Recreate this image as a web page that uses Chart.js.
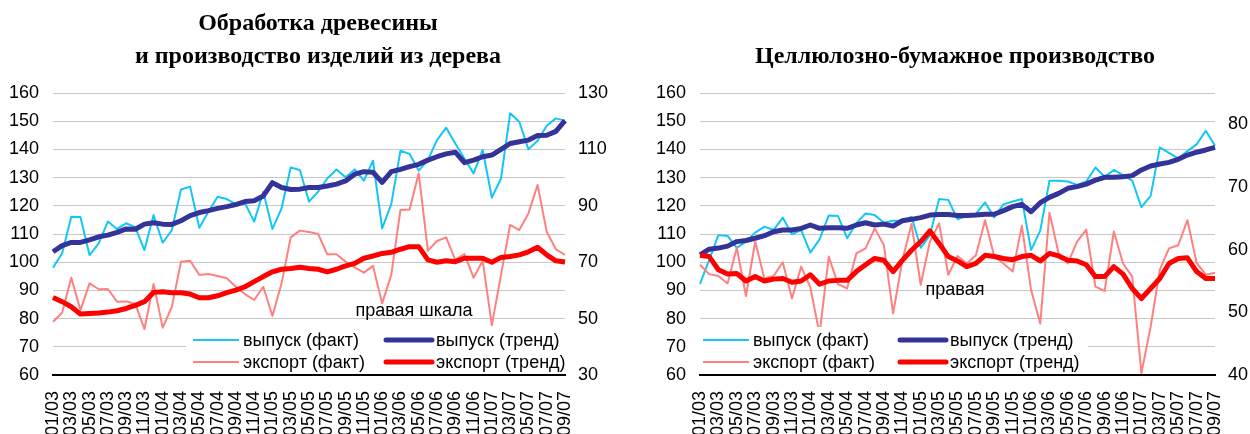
<!DOCTYPE html>
<html>
<head>
<meta charset="utf-8">
<script src="https://cdn.jsdelivr.net/npm/chart.js@4.4.0/dist/chart.umd.min.js"></script>
<style>
  body { margin: 0; background: #fff; width: 1250px; height: 434px; overflow: hidden; position: relative; }
  .panel { position: absolute; top: 0; width: 625px; height: 434px; }
  .title { position: absolute; width: 600px; font-family: "Liberation Serif", "Times New Roman", serif; font-weight: bold; font-size: 24px; line-height: 33px; text-align: center; white-space: nowrap; color: #000; }
</style>
</head>
<body>
<div class="panel" style="left:0"><canvas id="wood" width="625" height="434"></canvas></div>
<div class="panel" style="left:625px"><canvas id="paper" width="625" height="434"></canvas></div>
<div class="title" style="left:18px; top:6px">Обработка древесины<br>и производство изделий из дерева</div>
<div class="title" style="left:655px; top:39px">Целлюлозно-бумажное производство</div>
<script>
// monthly labels 01/03 ... 09/07
const months = [];
for (let y = 3; y <= 7; y++) {
  for (let m = 1; m <= 12; m++) {
    if (y === 7 && m > 9) break;
    months.push(String(m).padStart(2, "0") + "/0" + y);
  }
}

const seriesNames = ["выпуск (факт)", "выпуск (тренд)", "экспорт (факт)", "экспорт (тренд)"];

// wood processing: output (left scale), export (right scale)
const woodOutFact = [98, 103.2, 116.1, 116, 102.5, 106.7, 114.4, 111.8, 113.8, 112.4, 104.3, 116.7, 106.9, 111.4, 125.8, 126.8, 112.2, 117.9, 123.2, 122.4, 120.6, 120.9, 114.4, 125, 111.8, 119.1, 133.6, 132.7, 121.5, 125, 129.7, 132.9, 130.1, 132.9, 128.9, 136, 112, 120.6, 139.5, 138.4, 132.5, 136.2, 143.3, 147.7, 142.1, 136.8, 131.5, 139.8, 122.9, 129.7, 152.8, 149.8, 140, 143.1, 148.4, 151, 150.2];
const woodOutTrend = [103.7, 105.9, 107, 107, 107.9, 109, 109.6, 110.6, 111.8, 111.7, 113.5, 114, 113.5, 113.4, 114.7, 116.5, 117.6, 118.3, 119.1, 119.7, 120.4, 121.5, 121.8, 123.5, 128.2, 126.5, 125.8, 125.9, 126.5, 126.5, 127, 127.7, 128.8, 131.2, 132.1, 131.9, 128.3, 132.1, 132.9, 133.9, 134.7, 136.2, 137.4, 138.4, 139, 135.3, 136.2, 137.4, 138, 140, 142.1, 142.7, 143.3, 144.9, 145, 146.4, 150.2];
const woodExpFact = [48.9, 52.1, 64.5, 53, 62.5, 60.4, 60.5, 56, 56.1, 55.2, 46.3, 62.3, 46.8, 54.2, 70.2, 70.5, 65.5, 65.8, 65.1, 64.3, 61.3, 58.7, 56.6, 61.3, 50.9, 62.5, 78.8, 81.2, 80.7, 80, 72.8, 72.8, 70.2, 68.2, 66.3, 68.7, 55.4, 65.5, 88.5, 88.7, 101.5, 74.1, 77.5, 78.8, 70.8, 72.9, 64.5, 70.5, 47.7, 65.5, 83.2, 81.4, 87.3, 97.4, 80.8, 74.6, 72.6];
const woodExpTrend = [57.5, 56, 54.2, 51.6, 51.8, 52, 52.3, 52.8, 53.6, 54.7, 56, 59.3, 59.5, 59.2, 59.2, 58.7, 57.4, 57.4, 58.1, 59.2, 60.1, 61.3, 63.1, 64.9, 66.6, 67.5, 67.8, 68.2, 67.8, 67.5, 66.6, 67.5, 68.7, 69.6, 71.4, 72.2, 73.1, 73.5, 74.6, 75.5, 75.5, 70.8, 70, 70.5, 70.2, 71.4, 71.4, 71.4, 70, 71.7, 72, 72.6, 73.7, 75.3, 72.6, 70.5, 70.1];

// pulp and paper
const paperOutFact = [92.3, 100.8, 109.6, 109.3, 105.1, 107.3, 110.5, 112.6, 111.4, 115.8, 109.9, 111.4, 103.4, 108.1, 116.6, 116.4, 108.5, 113.8, 117.3, 116.7, 114, 114.7, 114.7, 116.1, 105.1, 109.6, 122.4, 122.1, 115.2, 116.4, 117.1, 121.2, 115.9, 120.5, 121.5, 122.4, 104.3, 111.2, 128.9, 128.9, 128.6, 127.4, 128.6, 133.6, 130.3, 132.7, 130.9, 128.9, 119.5, 123.5, 140.7, 138.8, 136.8, 139.4, 141.8, 146.6, 141.3];
const paperOutTrend = [102.6, 104.6, 105, 105.7, 107.3, 107.7, 108.5, 109.4, 110.8, 111.4, 111.4, 112, 113.2, 112, 112.2, 112.2, 112, 113.2, 114, 113.2, 113.5, 112.8, 114.7, 115.2, 115.8, 116.7, 116.9, 116.9, 116.6, 116.6, 116.7, 117, 117, 118.3, 119.7, 120.5, 117.9, 121.1, 123, 124.4, 126.2, 126.8, 127.7, 129.1, 130.1, 130.1, 130.3, 130.7, 132.7, 134.1, 134.8, 135.4, 136.5, 138, 139, 139.8, 140.7];
const paperExpFact = [57.6, 56.1, 55.8, 54.6, 60.3, 52.6, 61.3, 55.4, 55.8, 58, 52.2, 57.3, 54, 46.5, 58.9, 54.5, 53.8, 59.4, 60.2, 63.4, 60.7, 49.8, 58.3, 64.1, 54.4, 61.3, 64.2, 56, 59, 57.8, 59.1, 64.7, 58.9, 57.8, 56.5, 63.8, 53.6, 48.2, 65.9, 59.4, 57.8, 61.3, 63.2, 54.1, 53.4, 62.9, 57.8, 55.7, 40.3, 47.7, 56.8, 60.2, 60.7, 64.7, 57.9, 56, 56.3];
const paperExpTrend = [59.1, 58.9, 56.8, 56.1, 56.2, 55, 55.7, 55, 55.3, 55.4, 54.8, 55, 56, 54.5, 55, 55.1, 55.1, 56.5, 57.6, 58.6, 58.3, 56.5, 58.3, 59.9, 61.3, 63, 61, 58.9, 58.2, 57.3, 57.8, 59.1, 58.9, 58.6, 58.4, 58.9, 59.1, 58.2, 59.4, 59, 58.3, 58.2, 57.6, 55.7, 55.7, 57.3, 56.1, 53.8, 52.2, 53.8, 55.4, 57.8, 58.6, 58.7, 56.5, 55.4, 55.4];

const FONT = '"Liberation Sans", Arial, sans-serif';

// white legend box inside the plot plus the "right scale" note
const overlay = {
  id: "overlay",
  afterDatasetsDraw(chart, args, opts) {
    const ctx = chart.ctx;
    const b = opts.box;
    ctx.save();
    ctx.fillStyle = "#fff";
    ctx.fillRect(b[0], b[1], b[2] - b[0], b[3] - b[1]);
    ctx.font = "18px " + FONT;
    ctx.textBaseline = "middle";
    chart.data.datasets.forEach((ds, i) => {
      const x = opts.cols[i % 2];
      const y = opts.rows[Math.floor(i / 2)];
      ctx.strokeStyle = ds.borderColor;
      ctx.lineWidth = ds.borderWidth;
      ctx.lineCap = ds.borderWidth > 3 ? "round" : "butt";
      ctx.beginPath();
      ctx.moveTo(x, y);
      ctx.lineTo(x + 46, y);
      ctx.stroke();
      ctx.fillStyle = "#000";
      ctx.textAlign = "left";
      ctx.fillText(ds.label, x + 50, y + 1);
    });
    ctx.textAlign = "center";
    ctx.fillText(opts.note, opts.noteX, opts.noteY);
    ctx.restore();
  }
};

function makeChart(id, out, outTrend, exp, expTrend, right, geo) {
  const tickFont = { family: FONT, size: 18 };
  return new Chart(document.getElementById(id), {
    type: "line",
    data: {
      labels: months,
      datasets: [
        { label: seriesNames[0], data: out, yAxisID: "y", borderColor: "#12c6f5", borderWidth: 2, order: 4 },
        { label: seriesNames[1], data: outTrend, yAxisID: "y", borderColor: "#333399", borderWidth: 5, order: 3 },
        { label: seriesNames[2], data: exp, yAxisID: "y1", borderColor: "#ff8080", borderWidth: 2, order: 2 },
        { label: seriesNames[3], data: expTrend, yAxisID: "y1", borderColor: "#ff0000", borderWidth: 5, order: 1 }
      ]
    },
    options: {
      responsive: false,
      animation: false,
      layout: { padding: { top: 93, left: 0, right: 0, bottom: 0 } },
      elements: { point: { radius: 0 }, line: { tension: 0, borderJoinStyle: "round" } },
      plugins: {
        legend: { display: false },
        tooltip: { enabled: false },
        overlay: geo.overlay
      },
      scales: {
        x: {
          offset: false,
          grid: { display: false },
          border: { display: true, color: "#000", width: 2 },
          afterFit: s => { s.height = 59; },
          ticks: {
            autoSkip: false, minRotation: 90, maxRotation: 90, padding: 8,
            color: "#000", font: tickFont,
            callback: (v, i) => (i % 2 === 0 ? months[i] : "")
          }
        },
        y: {
          position: "left", min: 60, max: 160,
          grid: { color: "#c8c8c8", lineWidth: 1, drawTicks: false },
          border: { display: false },
          afterFit: s => { s.width = geo.left; },
          ticks: { stepSize: 10, padding: 14, color: "#000", font: tickFont }
        },
        y1: {
          position: "right", min: right.min, max: right.max,
          grid: { display: false, drawTicks: false },
          border: { display: false },
          afterFit: s => { s.width = geo.right; },
          afterBuildTicks: s => { s.ticks = s.ticks.filter(t => (t.value - right.min) % right.step === 0 && t.value <= right.top); },
          ticks: { stepSize: right.step, padding: 13, color: "#000", font: tickFont }
        }
      }
    },
    plugins: [overlay]
  });
}

makeChart("wood", woodOutFact, woodOutTrend, woodExpFact, woodExpTrend,
  { min: 30, max: 130, step: 20, top: 130 },
  { left: 53, right: 60,
    overlay: { box: [186, 327, 566, 373], cols: [193, 386], rows: [340, 362], note: "правая шкала", noteX: 414, noteY: 311 } });

makeChart("paper", paperOutFact, paperOutTrend, paperExpFact, paperExpTrend,
  { min: 40, max: 85, step: 10, top: 80 },
  { left: 75, right: 35,
    overlay: { box: [75, 327, 463, 373], cols: [78, 275], rows: [340, 362], note: "правая", noteX: 330, noteY: 290 } });
</script>
</body>
</html>
